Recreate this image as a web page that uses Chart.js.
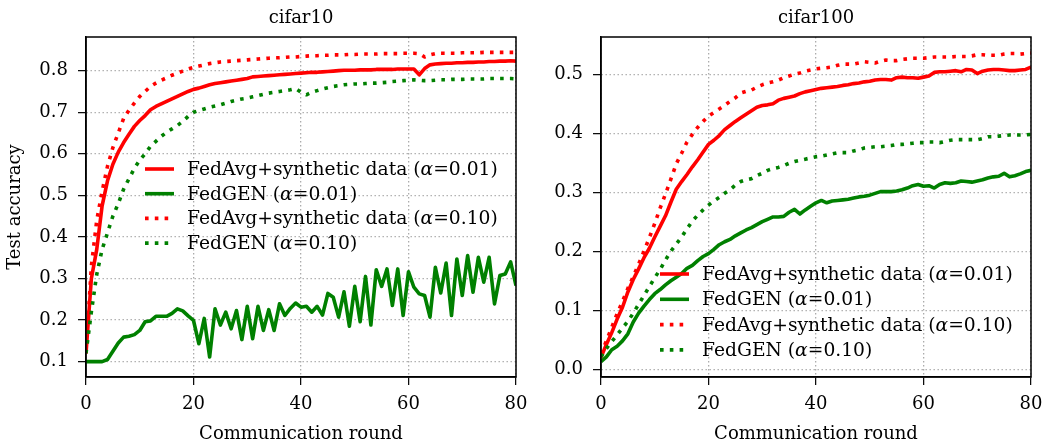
<!DOCTYPE html>
<html>
<head>
<meta charset="utf-8">
<script src="https://cdn.jsdelivr.net/npm/chart.js@4.4.1/dist/chart.umd.min.js"></script>
<style>
  html, body { margin: 0; padding: 0; background: #fff; }
  #wrap { position: relative; width: 1043px; height: 445px; overflow: hidden; }
  canvas { position: absolute; top: 0; }
  #left { left: 0; }
  #right { left: 521px; }
</style>
</head>
<body>
<div id="wrap">
  <canvas id="left" width="545" height="445"></canvas>
  <canvas id="right" width="522" height="445"></canvas>
</div>
<script>
// communication rounds 0..80
const rounds = Array.from({ length: 81 }, (_, i) => i)
const xTicks = [0, 20, 40, 60, 80]
const cifar10YTicks = [0.1, 0.2, 0.3, 0.4, 0.5, 0.6, 0.7, 0.8]
const cifar100YTicks = [0.0, 0.1, 0.2, 0.3, 0.4, 0.5]

const seriesLabels = [
  'FedAvg+synthetic data (α=0.01)',
  'FedGEN (α=0.01)',
  'FedAvg+synthetic data (α=0.10)',
  'FedGEN (α=0.10)'
]

// cifar10
const cifar10FedAvg001 = [
  0.12, 0.30, 0.37, 0.475, 0.535, 0.575, 0.604, 0.627, 0.647, 0.666,
  0.68, 0.692, 0.706, 0.714, 0.72, 0.726, 0.732, 0.738, 0.744, 0.75,
  0.755, 0.758, 0.762, 0.766, 0.769, 0.771, 0.773, 0.775, 0.777, 0.779,
  0.781, 0.785, 0.786, 0.787, 0.788, 0.789, 0.790, 0.791, 0.792, 0.793,
  0.794, 0.795, 0.796, 0.796, 0.797, 0.798, 0.799, 0.800, 0.801, 0.801,
  0.801, 0.802, 0.802, 0.802, 0.803, 0.803, 0.803, 0.803, 0.804, 0.804,
  0.804, 0.804, 0.790, 0.805, 0.814, 0.816, 0.817, 0.818, 0.818, 0.819,
  0.819, 0.820, 0.820, 0.821, 0.821, 0.822, 0.822, 0.823, 0.823, 0.824,
  0.823
]
const cifar10FedGen001 = [
  0.10, 0.10, 0.10, 0.10, 0.105, 0.125, 0.145, 0.159, 0.161, 0.165,
  0.175, 0.196, 0.198, 0.209, 0.209, 0.209, 0.216, 0.227, 0.222, 0.210,
  0.199, 0.143, 0.204, 0.111, 0.227, 0.188, 0.219, 0.179, 0.223, 0.153,
  0.233, 0.155, 0.233, 0.175, 0.225, 0.175, 0.239, 0.211, 0.228, 0.241,
  0.231, 0.233, 0.219, 0.233, 0.212, 0.264, 0.255, 0.207, 0.268, 0.185,
  0.281, 0.196, 0.305, 0.188, 0.321, 0.281, 0.323, 0.235, 0.323, 0.211,
  0.316, 0.279, 0.263, 0.259, 0.207, 0.327, 0.265, 0.337, 0.211, 0.347,
  0.259, 0.355, 0.267, 0.351, 0.291, 0.351, 0.239, 0.307, 0.311, 0.340,
  0.283
]
const cifar10FedAvg010 = [
  0.12, 0.33, 0.44, 0.51, 0.57, 0.615, 0.65, 0.685, 0.705, 0.722,
  0.738, 0.75, 0.762, 0.77, 0.777, 0.783, 0.789, 0.794, 0.799, 0.804,
  0.808, 0.811, 0.814, 0.817, 0.819, 0.821, 0.822, 0.823, 0.824, 0.825,
  0.826, 0.827, 0.828, 0.829, 0.830, 0.831, 0.831, 0.832, 0.833, 0.833,
  0.834, 0.835, 0.836, 0.836, 0.837, 0.837, 0.838, 0.838, 0.838, 0.839,
  0.839, 0.840, 0.840, 0.840, 0.840, 0.841, 0.841, 0.841, 0.841, 0.842,
  0.842, 0.842, 0.841, 0.833, 0.838, 0.841, 0.842, 0.842, 0.842, 0.842,
  0.843, 0.843, 0.843, 0.843, 0.844, 0.844, 0.844, 0.844, 0.844, 0.844,
  0.844
]
const cifar10FedGen010 = [
  0.12, 0.22, 0.31, 0.37, 0.41, 0.45, 0.48, 0.515, 0.54, 0.565,
  0.585, 0.60, 0.618, 0.63, 0.642, 0.652, 0.66, 0.668, 0.678, 0.69,
  0.70, 0.704, 0.708, 0.712, 0.715, 0.718, 0.722, 0.726, 0.729, 0.732,
  0.734, 0.737, 0.740, 0.743, 0.746, 0.748, 0.750, 0.752, 0.754, 0.757,
  0.748, 0.742, 0.748, 0.752, 0.756, 0.759, 0.762, 0.764, 0.766, 0.767,
  0.768, 0.768, 0.769, 0.770, 0.770, 0.771, 0.772, 0.774, 0.775, 0.776,
  0.777, 0.778, 0.777, 0.776, 0.776, 0.777, 0.778, 0.778, 0.779, 0.779,
  0.779, 0.780, 0.780, 0.780, 0.780, 0.781, 0.781, 0.781, 0.781, 0.781,
  0.780
]

// cifar100
const cifar100FedAvg001 = [
  0.02, 0.042, 0.062, 0.085, 0.105, 0.131, 0.152, 0.17, 0.189, 0.205,
  0.224, 0.242, 0.26, 0.283, 0.305, 0.318, 0.33, 0.343, 0.355, 0.368,
  0.381, 0.388, 0.396, 0.406, 0.413, 0.42, 0.426, 0.432, 0.438, 0.444,
  0.447, 0.448, 0.450, 0.456, 0.459, 0.461, 0.463, 0.467, 0.470, 0.472,
  0.474, 0.476, 0.477, 0.478, 0.479, 0.481, 0.482, 0.484, 0.485, 0.487,
  0.488, 0.490, 0.491, 0.491, 0.490, 0.494, 0.495, 0.494, 0.494, 0.493,
  0.495, 0.497, 0.503, 0.504, 0.504, 0.505, 0.506, 0.504, 0.508, 0.507,
  0.501, 0.505, 0.507, 0.508, 0.508, 0.507, 0.506, 0.506, 0.507, 0.508,
  0.512
]
const cifar100FedGen001 = [
  0.013, 0.021, 0.033, 0.039, 0.048, 0.06, 0.08, 0.095, 0.107, 0.118,
  0.128, 0.135, 0.143, 0.150, 0.156, 0.162, 0.171, 0.176, 0.184, 0.191,
  0.196, 0.203, 0.211, 0.216, 0.220, 0.226, 0.231, 0.236, 0.240, 0.245,
  0.250, 0.254, 0.258, 0.258, 0.259, 0.266, 0.271, 0.263, 0.270, 0.276,
  0.282, 0.286, 0.282, 0.285, 0.286, 0.287, 0.288, 0.290, 0.292, 0.293,
  0.295, 0.298, 0.301, 0.301, 0.301, 0.302, 0.304, 0.307, 0.311, 0.313,
  0.310, 0.311, 0.307, 0.313, 0.316, 0.315, 0.316, 0.319, 0.318, 0.317,
  0.319, 0.321, 0.324, 0.326, 0.327, 0.332, 0.326, 0.328, 0.331, 0.335,
  0.337
]
const cifar100FedAvg010 = [
  0.026, 0.048, 0.071, 0.094, 0.115, 0.137, 0.157, 0.178, 0.20, 0.223,
  0.247, 0.273, 0.297, 0.322, 0.348, 0.366, 0.385, 0.398, 0.410, 0.420,
  0.429, 0.435, 0.441, 0.447, 0.454, 0.46, 0.468, 0.471, 0.473, 0.478,
  0.482, 0.485, 0.487, 0.490, 0.494, 0.497, 0.500, 0.502, 0.505, 0.507,
  0.509, 0.510, 0.511, 0.512, 0.515, 0.517, 0.517, 0.517, 0.519, 0.521,
  0.520, 0.519, 0.522, 0.524, 0.523, 0.523, 0.525, 0.526, 0.527, 0.527,
  0.527, 0.528, 0.529, 0.529, 0.529, 0.529, 0.530, 0.530, 0.530, 0.531,
  0.533, 0.533, 0.532, 0.532, 0.532, 0.534, 0.535, 0.535, 0.534, 0.535,
  0.536
]
const cifar100FedGen010 = [
  0.021, 0.035, 0.047, 0.058, 0.07, 0.081, 0.095, 0.11, 0.125, 0.14,
  0.155, 0.169, 0.185, 0.2, 0.212, 0.224, 0.238, 0.251, 0.261, 0.270,
  0.278, 0.285, 0.291, 0.298, 0.304, 0.312, 0.318, 0.321, 0.323, 0.328,
  0.332, 0.337, 0.340, 0.342, 0.345, 0.349, 0.352, 0.354, 0.356, 0.358,
  0.360, 0.361, 0.363, 0.365, 0.367, 0.367, 0.367, 0.370, 0.372, 0.375,
  0.376, 0.377, 0.377, 0.378, 0.379, 0.381, 0.381, 0.382, 0.383, 0.384,
  0.384, 0.385, 0.385, 0.384, 0.386, 0.388, 0.389, 0.389, 0.389, 0.389,
  0.389, 0.391, 0.394, 0.394, 0.395, 0.396, 0.397, 0.397, 0.397, 0.397,
  0.398
]

const RED = '#ff0000'
const GREEN = '#008000'
const FONT = "'DejaVu Serif', serif"
const DOTS = [3.6, 6.2]
const GRID = '#ababab'

Chart.defaults.font.family = FONT
Chart.defaults.font.size = 18
Chart.defaults.color = '#000'

// title drawn over the plot area, like a matplotlib axes title
const panelTitle = {
  id: 'panelTitle',
  afterDraw(chart, args, opts) {
    const { ctx, chartArea } = chart
    ctx.save()
    ctx.font = '18px ' + FONT
    ctx.fillStyle = '#000'
    ctx.textAlign = 'center'
    ctx.textBaseline = 'alphabetic'
    ctx.fillText(opts.text, (chartArea.left + chartArea.right) / 2, 23)
    ctx.restore()
  }
}

// black frame round the plot area
const frame = {
  id: 'frame',
  afterDatasetsDraw(chart) {
    const { ctx, chartArea: a } = chart
    ctx.save()
    ctx.lineWidth = 1.5
    ctx.strokeStyle = '#000'
    ctx.strokeRect(a.left, a.top, a.right - a.left, a.bottom - a.top)
    ctx.restore()
  }
}

// legend without frame, placed inside the plot, alpha in italics
const inlineLegend = {
  id: 'inlineLegend',
  afterDatasetsDraw(chart, args, opts) {
    const { ctx, chartArea } = chart
    const size = opts.fontSize
    ctx.save()
    chart.data.datasets.forEach((ds, i) => {
      const y = opts.top + i * opts.rowGap
      const hx = chartArea.left + opts.handleX
      ctx.beginPath()
      ctx.lineWidth = ds.borderWidth
      ctx.strokeStyle = ds.borderColor
      ctx.setLineDash(ds.borderDash || [])
      ctx.lineCap = 'butt'
      ctx.moveTo(hx, y)
      ctx.lineTo(hx + opts.handleLen, y)
      ctx.stroke()

      ctx.setLineDash([])
      ctx.fillStyle = '#000'
      ctx.textAlign = 'left'
      ctx.textBaseline = 'alphabetic'
      let x = chartArea.left + opts.textX
      const parts = ds.label.split('α')
      parts.forEach((p, j) => {
        ctx.font = size + 'px ' + FONT
        ctx.fillText(p, x, y + 6)
        x += ctx.measureText(p).width
        if (j < parts.length - 1) {
          ctx.font = 'italic ' + size + 'px ' + FONT
          ctx.fillText('α', x, y + 6)
          x += ctx.measureText('α').width
        }
      })
    })
    ctx.restore()
  }
}

function toPoints(values) {
  return values.map((v, i) => ({ x: rounds[i], y: v }))
}

function makeChart(id, title, series, yTicks, yMin, yMax, cfg) {
  const styles = [
    { color: RED, dash: [] },
    { color: GREEN, dash: [] },
    { color: RED, dash: DOTS },
    { color: GREEN, dash: DOTS }
  ]
  const gridOpts = {
    color: GRID,
    lineWidth: 1.3,
    tickColor: '#000',
    tickLength: 8,
    tickWidth: 1.2,
    tickBorderDash: []
  }
  return new Chart(document.getElementById(id), {
    type: 'line',
    data: {
      datasets: series.map((values, i) => ({
        label: seriesLabels[i],
        data: toPoints(values),
        borderColor: styles[i].color,
        borderDash: styles[i].dash,
        borderWidth: 3.6,
        borderCapStyle: 'butt',
        borderJoinStyle: 'round',
        pointRadius: 0,
        tension: 0,
        fill: false,
        order: 4 - i
      }))
    },
    options: {
      responsive: false,
      animation: false,
      events: [],
      layout: { padding: { top: 37, right: cfg.padRight, left: 0, bottom: 0 } },
      plugins: {
        legend: { display: false },
        tooltip: { enabled: false },
        panelTitle: { text: title },
        inlineLegend: cfg.legend
      },
      scales: {
        x: {
          type: 'linear',
          min: 0,
          max: 80,
          afterBuildTicks: (axis) => { axis.ticks = xTicks.map((v) => ({ value: v })) },
          afterFit: (axis) => {
            axis.height = 68
            axis.paddingLeft = 0
            axis.paddingRight = 0
          },
          ticks: { padding: 9, maxRotation: 0, autoSkip: false, callback: (v) => String(v) },
          grid: gridOpts,
          border: { display: true, color: '#000', width: 1.5, dash: [1.4, 2.6] },
          title: {
            display: true,
            text: 'Communication round',
            font: { size: 18 },
            padding: { top: 0, bottom: 0 }
          }
        },
        y: {
          type: 'linear',
          min: yMin,
          max: yMax,
          afterBuildTicks: (axis) => { axis.ticks = yTicks.map((v) => ({ value: v })) },
          afterFit: (axis) => {
            axis.width = cfg.yWidth
            axis.paddingTop = 0
            axis.paddingBottom = 0
          },
          ticks: { padding: 10, autoSkip: false, callback: (v) => v.toFixed(1) },
          grid: gridOpts,
          border: { display: true, color: '#000', width: 1.5, dash: [1.4, 2.6] },
          title: {
            display: cfg.yTitle,
            text: 'Test accuracy',
            font: { size: 18 },
            padding: { top: 5, bottom: 0 }
          }
        }
      }
    },
    plugins: [panelTitle, frame, inlineLegend]
  })
}

makeChart('left', 'cifar10',
  [cifar10FedAvg001, cifar10FedGen001, cifar10FedAvg010, cifar10FedGen010],
  cifar10YTicks, 0.063, 0.881,
  {
    padRight: 29, yWidth: 86, yTitle: true,
    legend: { top: 169, rowGap: 24.7, handleX: 59, handleLen: 29, textX: 101, fontSize: 18.7 }
  })

makeChart('right', 'cifar100',
  [cifar100FedAvg001, cifar100FedGen001, cifar100FedAvg010, cifar100FedGen010],
  cifar100YTicks, -0.0132, 0.563,
  {
    padRight: 12, yWidth: 80, yTitle: false,
    legend: { top: 274, rowGap: 25.3, handleX: 59, handleLen: 29, textX: 101, fontSize: 18.7 }
  })
</script>
</body>
</html>
